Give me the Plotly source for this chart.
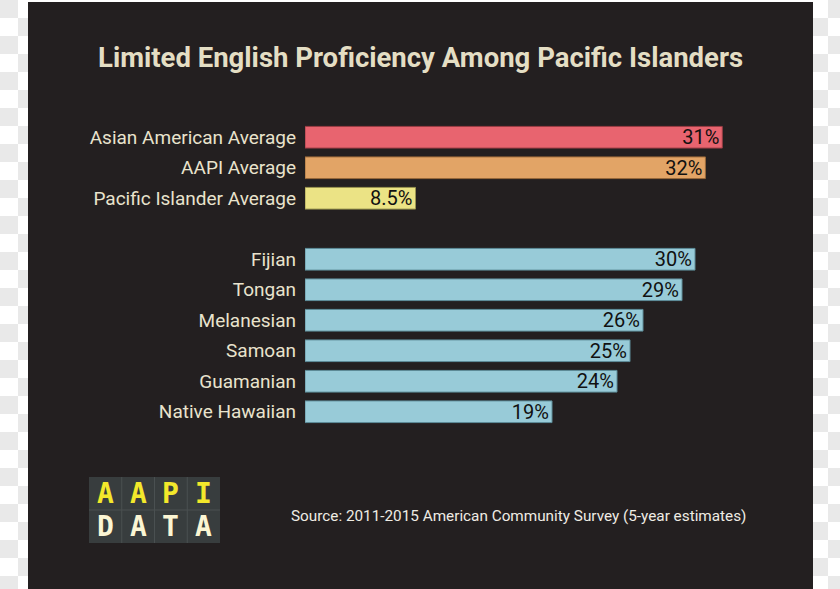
import plotly.graph_objects as go

# ---- data ----
categories = ["Asian American Average", "AAPI Average", "Pacific Islander Average",
              None,
              "Fijian", "Tongan", "Melanesian", "Samoan", "Guamanian", "Native Hawaiian"]
bar_lengths = [32.1, 30.8, 8.5, None, 30, 29, 26, 25, 24, 19]
bar_labels = ["31%", "32%", "8.5%", None, "30%", "29%", "26%", "25%", "24%", "19%"]
bar_colors = ["#e8646f", "#e2a466", "#ebe385", None,
              "#98cbd8", "#98cbd8", "#98cbd8", "#98cbd8", "#98cbd8", "#98cbd8"]
line_colors = ["#9a3c44", "#9a6a3a", "#9a9450", None,
               "#5e8d99", "#5e8d99", "#5e8d99", "#5e8d99", "#5e8d99", "#5e8d99"]

title_text = "Limited English Proficiency Among Pacific Islanders"
source_text = "Source: 2011-2015 American Community Survey (5-year estimates)"
logo_top = ["A", "A", "P", "I"]
logo_bottom = ["D", "A", "T", "A"]

rows = [i for i, c in enumerate(categories) if c is not None]
names = [categories[i] for i in rows]
vals = [bar_lengths[i] for i in rows]
texts = [bar_labels[i] for i in rows]
cols = [bar_colors[i] for i in rows]
lcols = [line_colors[i] for i in rows]

W, H = 840, 589
PL, PR, PT, PB = 305, 80, 122, 162
pw, ph = W - PL - PR, H - PT - PB


def px(x):
    return (x - PL) / pw


def py(y):
    return (H - PB - y) / ph


fig = go.Figure(go.Bar(
    x=vals, y=rows, orientation="h",
    marker=dict(color=cols, line=dict(color=lcols, width=1)),
    width=0.71,
    text=texts, textposition="inside", insidetextanchor="end",
    constraintext="none",
    textfont=dict(family="Roboto", size=20, color="#111111"),
    cliponaxis=False, hoverinfo="skip",
))

shapes = []
# transparent-look checker at the sides
sq = 18
for (xa, xb) in [(0, 28), (813, 840)]:
    for r in range(0, H // sq + 1):
        x0 = (xa // sq) * sq
        while x0 < xb:
            if (r + x0 // sq) % 2 == 0:
                shapes.append(dict(type="rect", xref="paper", yref="paper",
                                   x0=px(max(x0, xa)), x1=px(min(x0 + sq, xb)),
                                   y0=py(min((r + 1) * sq, H)), y1=py(r * sq),
                                   fillcolor="#e9e9e9", line=dict(width=0), layer="below"))
            x0 += sq

shapes.append(dict(type="rect", xref="paper", yref="paper",
                   x0=px(28), x1=px(813), y0=py(589), y1=py(2),
                   fillcolor="#231f20", line=dict(width=0), layer="below"))

# logo
lx0, lx1, ly0, ly1 = 89, 220, 477, 543
shapes.append(dict(type="rect", xref="paper", yref="paper",
                   x0=px(lx0), x1=px(lx1), y0=py(ly1), y1=py(ly0),
                   fillcolor="#383d3e", line=dict(width=0), layer="below"))
cw = (lx1 - lx0) / 4
ch = (ly1 - ly0) / 2
for k in range(1, 4):
    shapes.append(dict(type="line", xref="paper", yref="paper",
                       x0=px(lx0 + k * cw), x1=px(lx0 + k * cw), y0=py(ly1), y1=py(ly0),
                       line=dict(color="#4a5051", width=1), layer="below"))
shapes.append(dict(type="line", xref="paper", yref="paper",
                   x0=px(lx0), x1=px(lx1), y0=py(ly0 + ch), y1=py(ly0 + ch),
                   line=dict(color="#4a5051", width=1), layer="below"))

annotations = [
    dict(text=title_text, xref="paper", yref="paper", x=px(420), y=py(58),
         xanchor="center", yanchor="middle", showarrow=False,
         font=dict(family="Roboto", size=27.5, color="#e4dec4", weight="bold")),
    dict(text=source_text, xref="paper", yref="paper", x=px(289), y=py(516),
         xanchor="left", yanchor="middle", showarrow=False,
         font=dict(family="Roboto", size=15.3, color="#efece4")),
]
for k, (a, b) in enumerate(zip(logo_top, logo_bottom)):
    cx = lx0 + (k + 0.5) * cw
    annotations.append(dict(text=a, xref="paper", yref="paper", x=px(cx), y=py(ly0 + ch / 2),
                            xanchor="center", yanchor="middle", showarrow=False,
                            font=dict(family="DejaVu Sans Mono", size=28, color="#f3e82b", weight="bold")))
    annotations.append(dict(text=b, xref="paper", yref="paper", x=px(cx), y=py(ly0 + ch * 1.5),
                            xanchor="center", yanchor="middle", showarrow=False,
                            font=dict(family="DejaVu Sans Mono", size=28, color="#fbf5d3", weight="bold")))

fig.update_layout(
    width=W, height=H,
    margin=dict(l=PL, r=PR, t=PT, b=PB),
    paper_bgcolor="#ffffff", plot_bgcolor="rgba(0,0,0,0)",
    showlegend=False,
    xaxis=dict(range=[0, 35], visible=False, fixedrange=True),
    yaxis=dict(range=[9.5, -0.5], tickvals=rows, ticktext=names,
               tickfont=dict(family="Roboto", size=19, color="#e9e3cd"),
               showgrid=False, zeroline=False, showline=False, ticks="",
               ticklabelstandoff=8, fixedrange=True),
    shapes=shapes, annotations=annotations,
)

fig.write_html("out.html", config={"displayModeBar": False},
               post_script="document.body.style.margin='0';document.body.style.overflow='hidden';")
